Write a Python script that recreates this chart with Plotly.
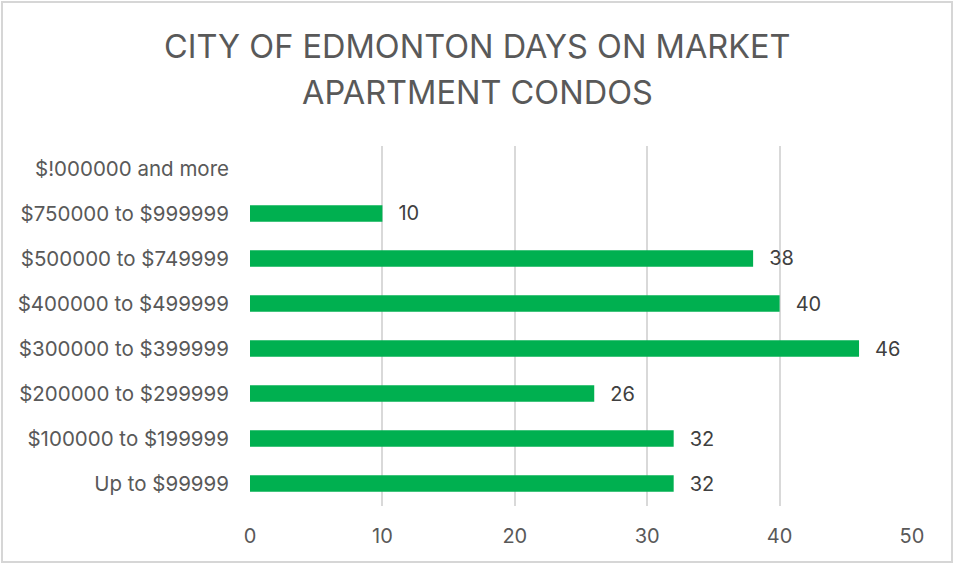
import plotly.graph_objects as go

categories = ["Up to $99999", "$100000 to $199999", "$200000 to $299999", "$300000 to $399999",
              "$400000 to $499999", "$500000 to $749999", "$750000 to $999999", "$!000000 and more"]
days = [32, 32, 26, 46, 40, 38, 10, None]
labels = ["32", "32", "26", "46", "40", "38", "10", ""]
x_ticks = [0, 10, 20, 30, 40, 50]
title_lines = ["CITY OF EDMONTON DAYS ON MARKET", "APARTMENT CONDOS"]

W, H = 955, 564
L, R, T, B = 250, 912, 146, 506
FONT = "Inter, Open Sans, sans-serif"

fig = go.Figure(go.Bar(
    y=categories, x=days, orientation="h",
    marker=dict(color="#00B050", line=dict(width=0)),
    width=0.37,
    text=labels, textposition="outside",
    texttemplate="\u00a0\u00a0\u200a%{text}",
    textfont=dict(size=20, color="#404040", family=FONT),
    constraintext="none",
    cliponaxis=False,
))

def px2paper_x(p):
    return (p - L) / (R - L)

def px2paper_y(p):
    return (B - p) / (B - T)

fig.add_shape(type="rect", xref="paper", yref="paper",
              x0=px2paper_x(2), x1=px2paper_x(952), y0=px2paper_y(562), y1=px2paper_y(2),
              line=dict(color="#D6D6D6", width=2), fillcolor="rgba(0,0,0,0)", layer="below")

for line, ypx in zip(title_lines, [46, 92]):
    fig.add_annotation(text=line, xref="paper", yref="paper",
                       x=px2paper_x(477), y=px2paper_y(ypx), xanchor="center", yanchor="middle",
                       showarrow=False,
                       font=dict(size=32.5, color="#595959", family=FONT))

fig.update_layout(
    width=W, height=H,
    margin=dict(l=L, r=W - R, t=T, b=H - B, autoexpand=False),
    paper_bgcolor="white", plot_bgcolor="white",
    showlegend=False,
    xaxis=dict(range=[0, 50], tickvals=x_ticks, showgrid=True, gridcolor="#D9D9D9", gridwidth=2,
               zeroline=False, showline=False, ticks="", automargin=False, ticklabelstandoff=16,
               tickfont=dict(size=20, color="#595959", family=FONT)),
    yaxis=dict(categoryorder="array", categoryarray=categories, showgrid=False,
               zeroline=False, showline=False, ticks="", ticklabelstandoff=20, automargin=False,
               tickfont=dict(size=20.5, color="#595959", family=FONT)),
)

fig.write_html("out.html", config={"displayModeBar": False},
               post_script="document.body.style.margin='0';")
